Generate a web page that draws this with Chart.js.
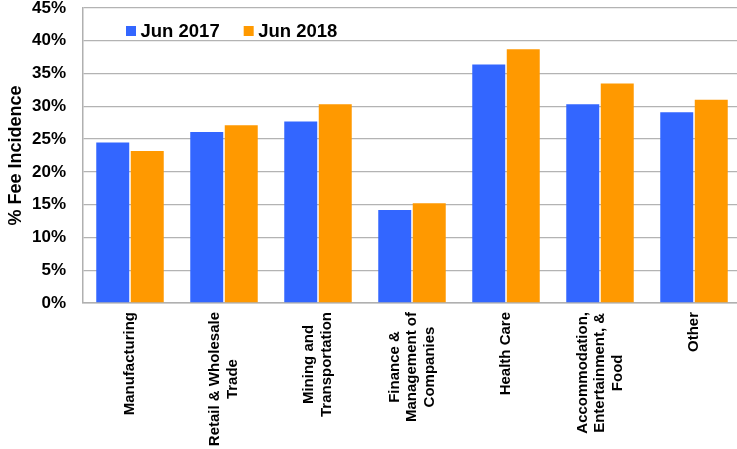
<!DOCTYPE html>
<html>
<head>
<meta charset="utf-8">
<script src="https://cdn.jsdelivr.net/npm/chart.js@4/dist/chart.umd.min.js"></script>
<style>
  html, body { margin: 0; padding: 0; background: #ffffff; overflow: hidden; }
  #wrap { width: 742px; height: 449px; position: relative; }
</style>
</head>
<body>
<div id="wrap"><canvas id="c"></canvas></div>
<script>
// ---- data ----
const categories = [
  ["Manufacturing"],
  ["Retail & Wholesale", "Trade"],
  ["Mining and", "Transportation"],
  ["Finance &", "Management of", "Companies"],
  ["Health Care"],
  ["Accommodation,", "Entertainment, &", "Food"],
  ["Other"]
];
const seriesNames = ["Jun 2017", "Jun 2018"];
const jun2017 = [24.5, 26.1, 27.7, 14.2, 36.4, 30.3, 29.1];
const jun2018 = [23.2, 27.1, 30.3, 15.2, 38.7, 33.5, 31.0];
const yTicks = [0, 5, 10, 15, 20, 25, 30, 35, 40, 45];
const yTitle = "% Fee Incidence";

const FONT = "'Liberation Sans', Arial, Helvetica, sans-serif";

const xLabelPlugin = {
  id: 'xLabels',
  afterDraw(chart) {
    const ctx = chart.ctx;
    const xs = chart.scales.x;
    const top = chart.chartArea.bottom + 9;
    const lh = 17.5;
    ctx.save();
    ctx.font = "bold 15px " + FONT;
    ctx.fillStyle = "#000000";
    ctx.textBaseline = "middle";
    ctx.textAlign = "center";
    categories.forEach((lines, i) => {
      const x = xs.getPixelForValue(i);
      let maxW = 0;
      lines.forEach(l => { maxW = Math.max(maxW, ctx.measureText(l).width); });
      ctx.save();
      ctx.translate(x, top);
      ctx.rotate(-Math.PI / 2);
      const n = lines.length;
      lines.forEach((l, j) => {
        ctx.fillText(l, -maxW / 2, (j - (n - 1) / 2) * lh);
      });
      ctx.restore();
    });
    ctx.restore();
  }
};

const legendPlugin = {
  id: 'customLegend',
  afterDraw(chart) {
    const ctx = chart.ctx;
    const area = chart.chartArea;
    let x = area.left + 43;
    const yc = area.top + 23;
    ctx.save();
    ctx.font = "bold 18.5px " + FONT;
    ctx.textBaseline = "middle";
    ctx.textAlign = "left";
    chart.data.datasets.forEach(ds => {
      ctx.fillStyle = ds.backgroundColor;
      ctx.fillRect(x, yc - 5, 10, 10);
      ctx.fillStyle = "#000000";
      ctx.fillText(ds.label, x + 14.5, yc + 0.5);
      x += 14.5 + ctx.measureText(ds.label).width + 24;
    });
    ctx.restore();
  }
};

new Chart(document.getElementById('c'), {
  type: 'bar',
  data: {
    labels: categories.map(l => l.join(' ')),
    datasets: [
      { label: seriesNames[0], data: jun2017, backgroundColor: '#3366FF', borderWidth: 0 },
      { label: seriesNames[1], data: jun2018, backgroundColor: '#FF9900', borderWidth: 0 }
    ]
  },
  options: {
    responsive: true,
    maintainAspectRatio: false,
    animation: false,
    devicePixelRatio: 1,
    datasets: { bar: { categoryPercentage: 0.734, barPercentage: 0.956 } },
    layout: { padding: { top: 8, right: 1, left: 0, bottom: 0 } },
    plugins: {
      tooltip: { enabled: false },
      legend: { display: false }
    },
    scales: {
      x: {
        grid: { display: false, drawTicks: false },
        border: { display: true, color: '#b0b0b0', width: 1.5 },
        ticks: { display: false },
        afterFit(s) { s.height = 146; s.paddingLeft = 0; s.paddingRight = 0; }
      },
      y: {
        min: 0,
        max: 45,
        afterBuildTicks(s) { s.ticks = yTicks.map(v => ({ value: v })); },
        grid: { color: '#b3b3b3', lineWidth: 1.3, drawTicks: false },
        border: { display: true, color: '#b0b0b0', width: 1.5 },
        ticks: {
          padding: 17,
          color: '#000000',
          font: { family: FONT, size: 17, weight: 'bold', lineHeight: 1 },
          callback: v => v + '%'
        },
        title: {
          display: true,
          text: yTitle,
          color: '#000000',
          padding: { top: 5, bottom: 0 },
          font: { family: FONT, size: 18, weight: 'bold' }
        },
        afterFit(s) { s.width = 83; s.paddingTop = 0; s.paddingBottom = 0; }
      }
    }
  },
  plugins: [xLabelPlugin, legendPlugin]
});
</script>
</body>
</html>
